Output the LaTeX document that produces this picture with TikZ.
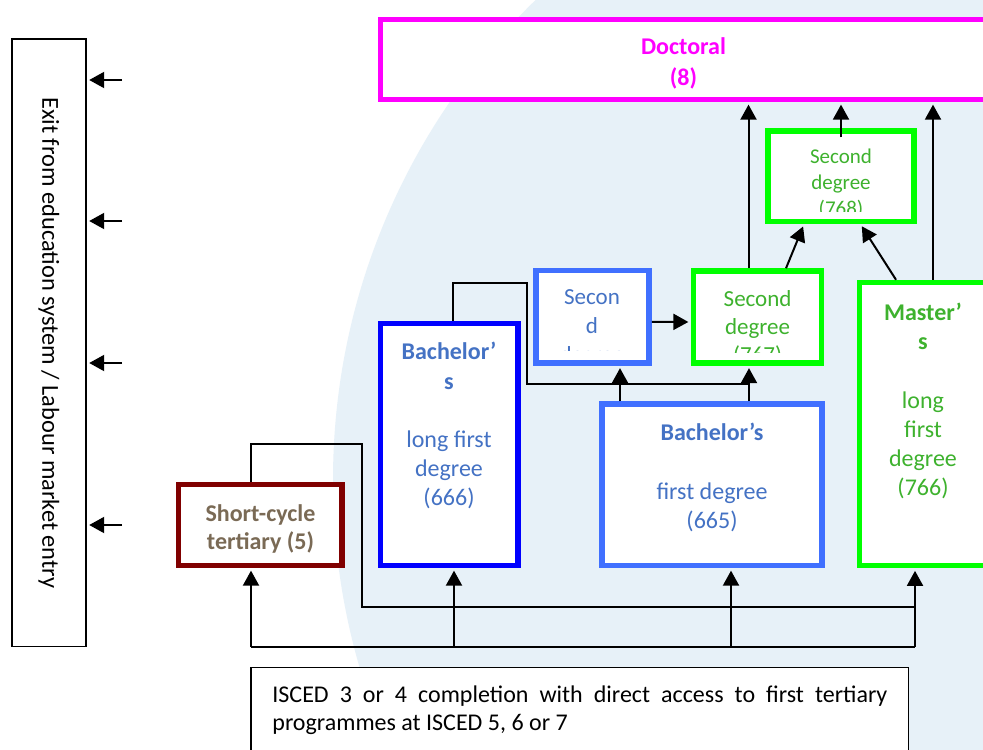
\documentclass[tikz,border=0pt]{standalone}
\usepackage{fontspec}
\setmainfont{Carlito}
\usetikzlibrary{positioning}
\usetikzlibrary{arrows.meta}
\usetikzlibrary{calc}

\definecolor{bgblue}{RGB}{231,241,248}
\definecolor{docmag}{RGB}{255,0,255}
\definecolor{brightgreen}{RGB}{0,255,0}
\definecolor{greentext}{RGB}{62,178,46}
\definecolor{deepblue}{RGB}{0,0,255}
\definecolor{midblue}{RGB}{64,112,255}
\definecolor{bluetext}{RGB}{68,114,196}
\definecolor{maroonline}{RGB}{128,0,0}
\definecolor{tantext}{RGB}{122,106,85}

\begin{document}
\begin{tikzpicture}[x=0.5pt, y=-0.5pt,
  box/.style={draw, fill=white, line width=2.75pt, inner sep=0pt},
  thinbox/.style={draw, fill=white, line width=0.8pt, inner sep=0pt},
  txt/.style={align=center, inner sep=0pt, anchor=north, font=\fontsize{12}{14.6}\selectfont},
  wire/.style={line width=1pt},
  arr/.style={line width=1pt, -{Triangle[length=7.5pt,width=8pt]}, shorten >=1.2pt}]

\useasboundingbox (0,0) rectangle (983,749);
\clip (0,0) rectangle (983,749);
\fill[white] (0,0) rectangle (983,749);
\fill[bgblue] (1003,480) circle (335pt);

\node[thinbox, minimum width=37pt, minimum height=303.75pt] (exit) at (49,342.75) {};
\node[rotate=-90, inner sep=0pt, font=\fontsize{12.2}{14}\selectfont] (exitlbl) at (exit.center) {Exit from education system / Labour market entry};

\node[box, draw=docmag, minimum width=302.75pt, minimum height=40pt] (doc) at (683.25,59.5) {};
\node[box, draw=brightgreen, minimum width=73pt, minimum height=45.25pt] (s768) at (841,176.25) {};
\node[box, draw=brightgreen, minimum width=64.1pt, minimum height=46pt] (s767) at (757.6,317) {};
\node[box, draw=midblue, minimum width=56.5pt, minimum height=46.25pt] (s667) at (592.5,316.75) {};
\node[box, draw=brightgreen, minimum width=63.2pt, minimum height=141.6pt] (m766) at (922.8,424.1) {};
\node[box, draw=midblue, minimum width=110pt, minimum height=80.75pt] (b665) at (712,484.75) {};
\node[box, draw=deepblue, minimum width=68.8pt, minimum height=121pt] (b666) at (449.2,444.5) {};
\node[box, draw=maroonline, minimum width=81.85pt, minimum height=40.5pt] (sc) at (260.15,525) {};
\node[thinbox, minimum width=328.75pt, minimum height=46.25pt] (isced) at (579.75,713.75) {};

\node[txt, text=docmag, font=\bfseries\fontsize{12}{15.3}\selectfont] (doclbl) at (683.5,37.7) {Doctoral\\(8)};
\node[txt, text=tantext, font=\bfseries\fontsize{12}{14.2}\selectfont] (sclbl) at (260.5,504.3) {Short-cycle\\tertiary (5)};
\node[txt, text=bluetext] (b666lbl) at (449,342) {\textbf{Bachelor’}\\\textbf{s}\\[14.6pt]long first\\degree\\(666)};
\node[txt, text=greentext] (m766lbl) at (923,302.7) {\textbf{Master’}\\\textbf{s}\\[14.6pt]long\\first\\degree\\(766)};
\node[txt, text=bluetext] (b665lbl) at (712,423) {\textbf{Bachelor’s}\\[14.6pt]first degree\\(665)};

\begin{scope}
\clip ([shift={(1.5pt,-1.5pt)}]s768.north west) rectangle ([shift={(-1.5pt,6.5pt)}]s768.south east);
\node[txt, text=greentext, font=\fontsize{10.5}{13}\selectfont] (s768lbl) at (841,149) {Second\\degree\\(768)};
\end{scope}
\begin{scope}
\clip ([shift={(1.5pt,-1.5pt)}]s767.north west) rectangle ([shift={(-1.5pt,6.5pt)}]s767.south east);
\node[txt, text=greentext, font=\fontsize{11.5}{14}\selectfont] (s767lbl) at (757.6,290.4) {Second\\degree\\(767)};
\end{scope}
\begin{scope}
\clip ([shift={(1.5pt,-1.5pt)}]s667.north west) rectangle ([shift={(-1.5pt,7.4pt)}]s667.south east);
\node[txt, text=bluetext, font=\fontsize{11.5}{14.4}\selectfont] (s667lbl) at (592,289.4) {Secon\\d\\degree\\(667)};
\end{scope}

\node[anchor=north west, text width=307.5pt, align=justify, inner sep=0pt,
  font=\fontsize{12}{14}\selectfont] (iscedlbl) at (272,685)
  {ISCED 3 or 4 completion with direct access to first tertiary\linebreak programmes at ISCED 5, 6 or 7};

\foreach \y [count=\i] in {80,221,363,525} {
  \coordinate (exit\i) at (122,\y);
  \draw[arr] (exit\i) -- (exit\i -| exit.east);
}

\coordinate (busL) at (251,647);
\coordinate (busR) at (915,647);
\draw[wire] (busL) -- (busR);
\draw[arr] (busL) -- (busL |- sc.south);
\draw[arr] (454,0 |- busL) -- (454,0 |- b666.south);
\draw[arr] (731,0 |- busL) -- (731,0 |- b665.south);
\draw[arr] (busR) -- (busR |- m766.south);

\draw[wire] (251,0 |- sc.north) |- (362,444) |- (915,607);
\draw[wire] (453,0 |- b666.north) |- (527,283) |- (749,384);

\draw[arr] (620,0 |- b665.north) -- (620,0 |- s667.south);
\draw[arr] (749,0 |- b665.north) -- (749,0 |- s767.south);
\draw[arr] ([yshift=-2.5pt]s667.east) -- ([yshift=-2.5pt]s767.west);

\draw[arr] (748.5,0 |- s767.north) -- (748.5,0 |- doc.south);
\draw[arr] (786,0 |- s767.north) -- (804,0 |- s768.south);
\draw[arr] ([yshift=-4.5pt]s768.north) -- (s768.north |- doc.south);
\draw[arr] (896,0 |- m766.north) -- (860.5,0 |- s768.south);
\draw[arr] (933,0 |- m766.north) -- (933,0 |- doc.south);

\end{tikzpicture}
\end{document}
